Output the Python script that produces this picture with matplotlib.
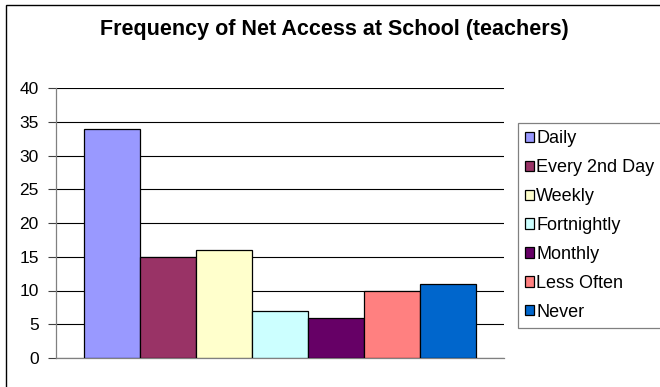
import matplotlib.pyplot as plt
from matplotlib.patches import Rectangle

# Survey answers: how often teachers use the Net at school
categories = ['Daily', 'Every 2nd Day', 'Weekly', 'Fortnightly', 'Monthly', 'Less Often', 'Never']
counts = [34, 15, 16, 7, 6, 10, 11]
colors = ['#9999FF', '#993366', '#FFFFCC', '#CCFFFF', '#660066', '#FF8080', '#0066CC']
yticks = [0, 5, 10, 15, 20, 25, 30, 35, 40]

plt.rcParams['font.family'] = ['Liberation Sans', 'DejaVu Sans']

W, H = 660, 387
fig = plt.figure(figsize=(W / 100, H / 100), dpi=100)
ax = fig.add_axes([56 / W, 1 - 358 / H, (504 - 56) / W, (358 - 88) / H])

# one bar per series, Excel-style clustered column
for i, (cat, val, col) in enumerate(zip(categories, counts, colors)):
    ax.bar(i, val, width=1.0, color=col, edgecolor='black', linewidth=0.9,
           label=cat, zorder=3)

ax.set_xlim(-1, 7)
ax.set_ylim(0, 40)
ax.set_yticks(yticks)
ax.set_xticks([])
ax.yaxis.grid(True, color='black', linewidth=0.8, zorder=0)
ax.tick_params(axis='y', direction='out', length=6, width=0.8, color='#404040',
               labelsize=12.5, pad=6.5)
for side in ['top', 'right']:
    ax.spines[side].set_visible(False)
for side in ['left', 'bottom']:
    ax.spines[side].set_color('#808080')
    ax.spines[side].set_linewidth(0.9)

fig.text(334 / W, 1 - 30 / H, 'Frequency of Net Access at School (teachers)',
         ha='center', va='center', fontsize=15.5, fontweight='bold')

leg = fig.legend(loc='upper left', bbox_to_anchor=(518 / W, 1 - 123 / H),
                 fontsize=13, handlelength=0.5, handleheight=0.5,
                 handletextpad=0.12, borderpad=0.4, labelspacing=0.66,
                 borderaxespad=0, fancybox=False, framealpha=1,
                 edgecolor='#808080')
leg.get_frame().set_linewidth(0.9)

# chart area border
fig.patches.append(Rectangle((6.5 / W, -0.1), 1.2, 1.1 - 5 / H, transform=fig.transFigure,
                             fill=False, edgecolor='black', linewidth=1.0))

fig.savefig('out.png', dpi=100)
